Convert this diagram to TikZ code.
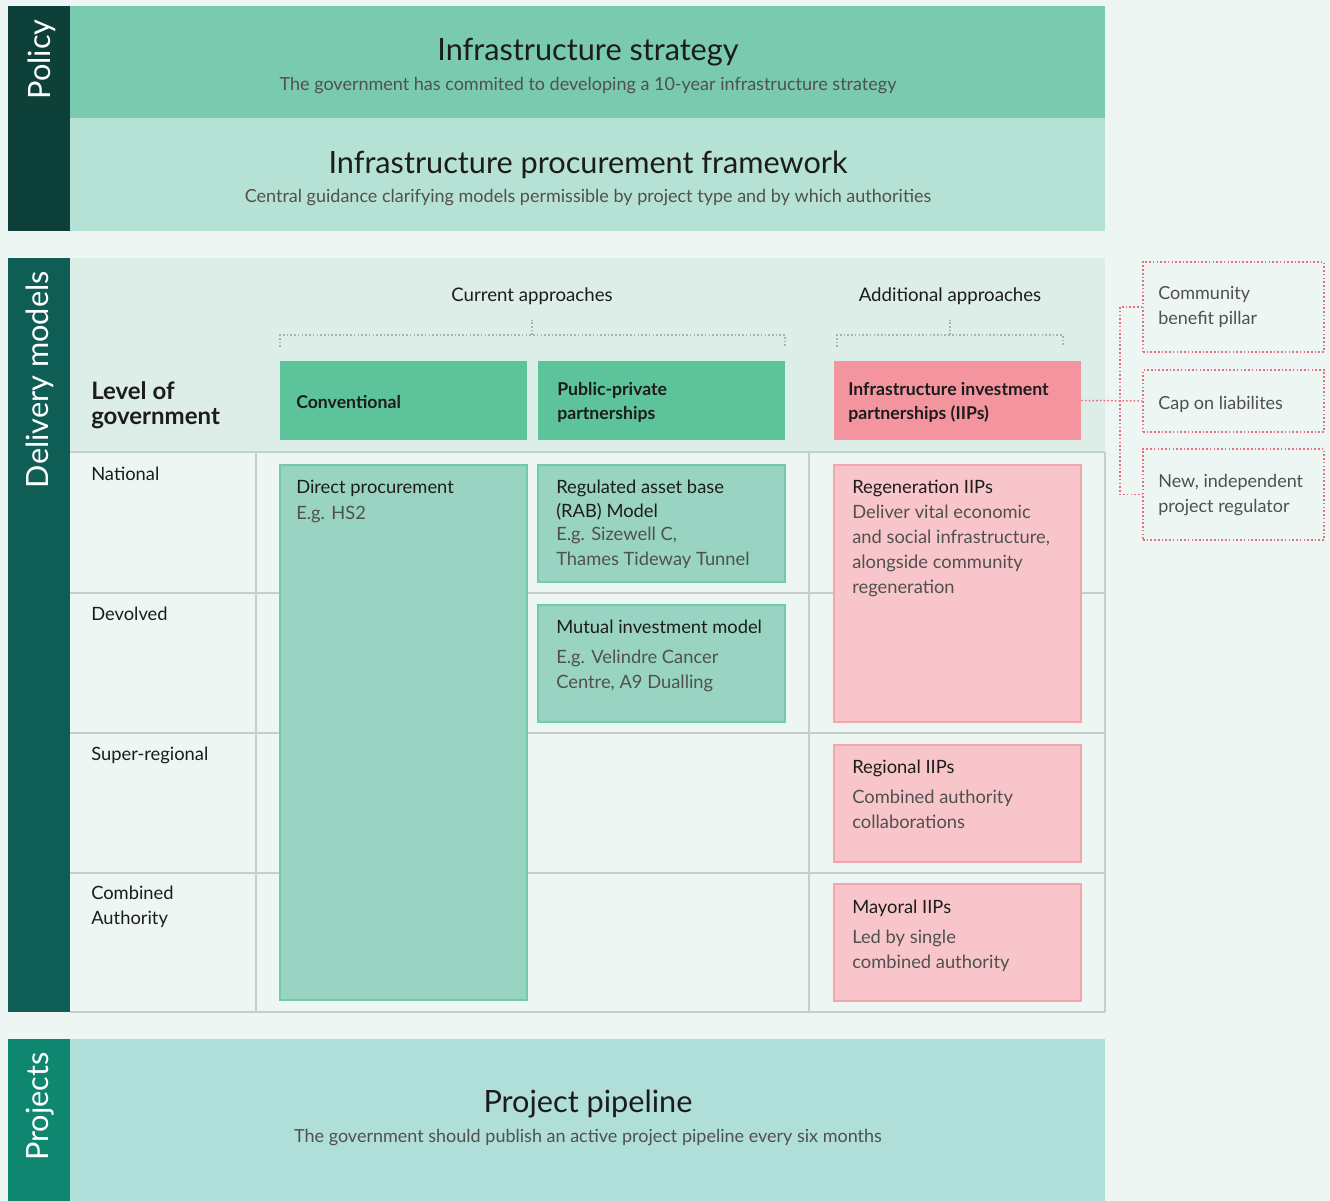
\documentclass[tikz,border=0pt]{standalone}
\usepackage{fontspec}
\setmainfont{Lato}
\usetikzlibrary{fit}
\definecolor{pagebg}{HTML}{EDF6F2}
\definecolor{policybar}{HTML}{0D4039}
\definecolor{deliverybar}{HTML}{0E5E55}
\definecolor{projectsbar}{HTML}{0E8670}
\definecolor{strategyband}{HTML}{7ACAB0}
\definecolor{frameworkband}{HTML}{B6E1D5}
\definecolor{pipelineband}{HTML}{B0DED9}
\definecolor{headerzone}{HTML}{DCEEE7}
\definecolor{gridline}{HTML}{C4CECB}
\definecolor{hdrgreen}{HTML}{5DC39B}
\definecolor{boxgreen}{HTML}{98D4C1}
\definecolor{boxgreenline}{HTML}{70CBA8}
\definecolor{hdrpink}{HTML}{F4949E}
\definecolor{boxpink}{HTML}{F8C6CA}
\definecolor{boxpinkline}{HTML}{F4A6AE}
\definecolor{reddots}{HTML}{E8707E}
\definecolor{graydots}{HTML}{A9B2AF}
\definecolor{ink}{HTML}{1C1C1C}
\definecolor{softink}{HTML}{505050}
\begin{document}
\begin{tikzpicture}[x=0.75pt,y=-0.75pt,
  % multi-line text nodes are placed by the baseline of their last line
  txt/.style={inner sep=0pt,anchor=base west,align=left,text=ink},
  bigtitle/.style={inner sep=0pt,anchor=base,text=ink,font=\fontsize{23}{27}\selectfont},
  subtitle/.style={inner sep=0pt,anchor=base,text=softink,font=\fontsize{13.5}{16}\selectfont},
  sidelabel/.style={inner sep=0pt,anchor=base east,rotate=90,text=white,font=\fontsize{23}{26}\selectfont},
  boxtitle/.style={txt,font=\fontsize{13.75}{18}\selectfont},
  boxbody/.style={txt,text=softink,font=\fontsize{13.75}{18.75}\selectfont},
  hdrtext/.style={txt,font=\bfseries\fontsize{13.25}{18}\selectfont},
  rowlabel/.style={txt,font=\fontsize{13.75}{18.75}\selectfont},
  colhead/.style={inner sep=0pt,anchor=base,text=ink,font=\fontsize{14}{16}\selectfont},
  sidenote/.style={txt,text=softink,font=\fontsize{13.5}{18.75}\selectfont},
  greenhdr/.style={fill=hdrgreen,inner sep=0pt},
  pinkhdr/.style={fill=hdrpink,inner sep=0pt},
  greenbox/.style={fill=boxgreen,draw=boxgreenline,line width=1.1pt,inner sep=0pt},
  pinkbox/.style={fill=boxpink,draw=boxpinkline,line width=1.1pt,inner sep=0pt},
  notebox/.style={draw=reddots,line width=1.1pt,dash pattern=on 1.2pt off 1.6pt,inner sep=0pt},
  reddot/.style={draw=reddots,line width=1.1pt,dash pattern=on 1.2pt off 1.6pt},
  graydot/.style={draw=graydots,line width=1.1pt,dash pattern=on 1.2pt off 1.6pt},
  grid/.style={draw=gridline,line width=0.8pt}]

\useasboundingbox (0,0) rectangle (1330,1201);
\fill[pagebg] (0,0) rectangle (1330,1201);

% ---------- Policy ----------
\fill[policybar] (8,6) rectangle (70,231);
\fill[strategyband] (70,6) rectangle (1105,118);
\fill[frameworkband] (70,118) rectangle (1105,231);
\node[sidelabel] (policy) at (50,19) {Policy};
\node[bigtitle] (strategy) at (588,61) {Infrastructure strategy};
\node[subtitle] (strategysub) at (588,91) {The government has commited to developing a 10-year infrastructure strategy};
\node[bigtitle] (framework) at (588,174) {Infrastructure procurement framework};
\node[subtitle] (frameworksub) at (588,203) {Central guidance clarifying models permissible by project type and by which authorities};

% ---------- Delivery models ----------
\fill[deliverybar] (8,258) rectangle (70,1012);
\fill[headerzone] (70,258) rectangle (1105,452);
\node[sidelabel] (delivery) at (48,271) {Delivery models};

% grid
\foreach \yy in {452,593,733,873,1012} \draw[grid] (70,\yy) -- (1105,\yy);
\foreach \xx in {256,809} \draw[grid] (\xx,452) -- (\xx,1012);
\draw[grid] (1105,452) -- (1105,1012);

% column headings and brackets
\node[colhead] (current) at (532,302) {Current approaches};
\node[colhead] (additional) at (950,302) {Additional approaches};
\draw[graydot] (280,347) -- (280,335) -- (785,335) -- (785,347);
\draw[graydot] (532,335) -- (532,320);
\draw[graydot] (837,347) -- (837,335) -- (1063,335) -- (1063,347);
\draw[graydot] (950,335) -- (950,320);

% header boxes
\node[greenhdr,fit={(280,361)(527,440)}] (conv) {};
\node[greenhdr,fit={(538,361)(785,440)}] (ppp) {};
\node[pinkhdr,fit={(834,361)(1081,440)}] (iip) {};
\node[hdrtext] (convtext) at (296,408) {Conventional};
\node[hdrtext] (ppptext) at (557,420) {Public-private\\partnerships};
\node[hdrtext] (iiptext) at (848,420) {Infrastructure investment\\partnerships (IIPs)};
\node[txt,font=\bfseries\fontsize{18}{18.75}\selectfont] (level) at (91,425) {Level of\\government};

% row labels
\node[rowlabel] (national) at (91,480) {National};
\node[rowlabel] (devolved) at (91,620) {Devolved};
\node[rowlabel] (superreg) at (91,760) {Super-regional};
\node[rowlabel] (combined) at (91,924) {Combined\\Authority};

% current approaches
\node[greenbox,fit={(280,465)(527,1000)}] (direct) {};
\node[boxtitle] (directt) at (296,493) {Direct procurement};
\node[boxbody] (directb) at (296,519) {E.g. HS2};

\node[greenbox,fit={(538,465)(785,582)}] (rab) {};
\node[boxtitle] (rabt) at (556,517) {Regulated asset base\\(RAB) Model};
\node[boxbody] (rabb) at (556,565) {E.g. Sizewell C,\\Thames Tideway Tunnel};

\node[greenbox,fit={(538,605)(785,722)}] (mutual) {};
\node[boxtitle] (mutualt) at (556,633) {Mutual investment model};
\node[boxbody] (mutualb) at (556,688) {E.g. Velindre Cancer\\Centre, A9 Dualling};

% additional approaches
\node[pinkbox,fit={(834,465)(1081,722)}] (regen) {};
\node[boxtitle] (regent) at (852,493) {Regeneration IIPs};
\node[boxbody] (regenb) at (852,593) {Deliver vital economic\\and social infrastructure,\\alongside community\\regeneration};

\node[pinkbox,fit={(834,745)(1081,862)}] (regional) {};
\node[boxtitle] (regionalt) at (852,773) {Regional IIPs};
\node[boxbody] (regionalb) at (852,828) {Combined authority\\collaborations};

\node[pinkbox,fit={(834,884)(1081,1001)}] (mayoral) {};
\node[boxtitle] (mayoralt) at (852,913) {Mayoral IIPs};
\node[boxbody] (mayoralb) at (852,968) {Led by single\\combined authority};

% IIP features
\node[notebox,fit={(1143,262)(1324,352)}] (pillar) {};
\node[sidenote] (pillart) at (1158,325) {Community\\benefit pillar};
\node[notebox,fit={(1143,370)(1324,432)}] (cap) {};
\node[sidenote] (capt) at (1158,410) {Cap on liabilites};
\node[notebox,fit={(1143,449)(1324,540)}] (regulator) {};
\node[sidenote] (regulatort) at (1158,512) {New, independent\\project regulator};

\coordinate (split) at (1120,401);
\draw[reddot] (iip.east) -- (cap.west);
\draw[reddot] (pillar.west) -| (split) |- (regulator.west);

% ---------- Projects ----------
\fill[projectsbar] (8,1039) rectangle (70,1201);
\fill[pipelineband] (70,1039) rectangle (1105,1201);
\node[sidelabel] (projects) at (48,1052) {Projects};
\node[bigtitle] (pipeline) at (588,1112) {Project pipeline};
\node[subtitle] (pipelinesub) at (588,1142) {The government should publish an active project pipeline every six months};
\end{tikzpicture}
\end{document}
